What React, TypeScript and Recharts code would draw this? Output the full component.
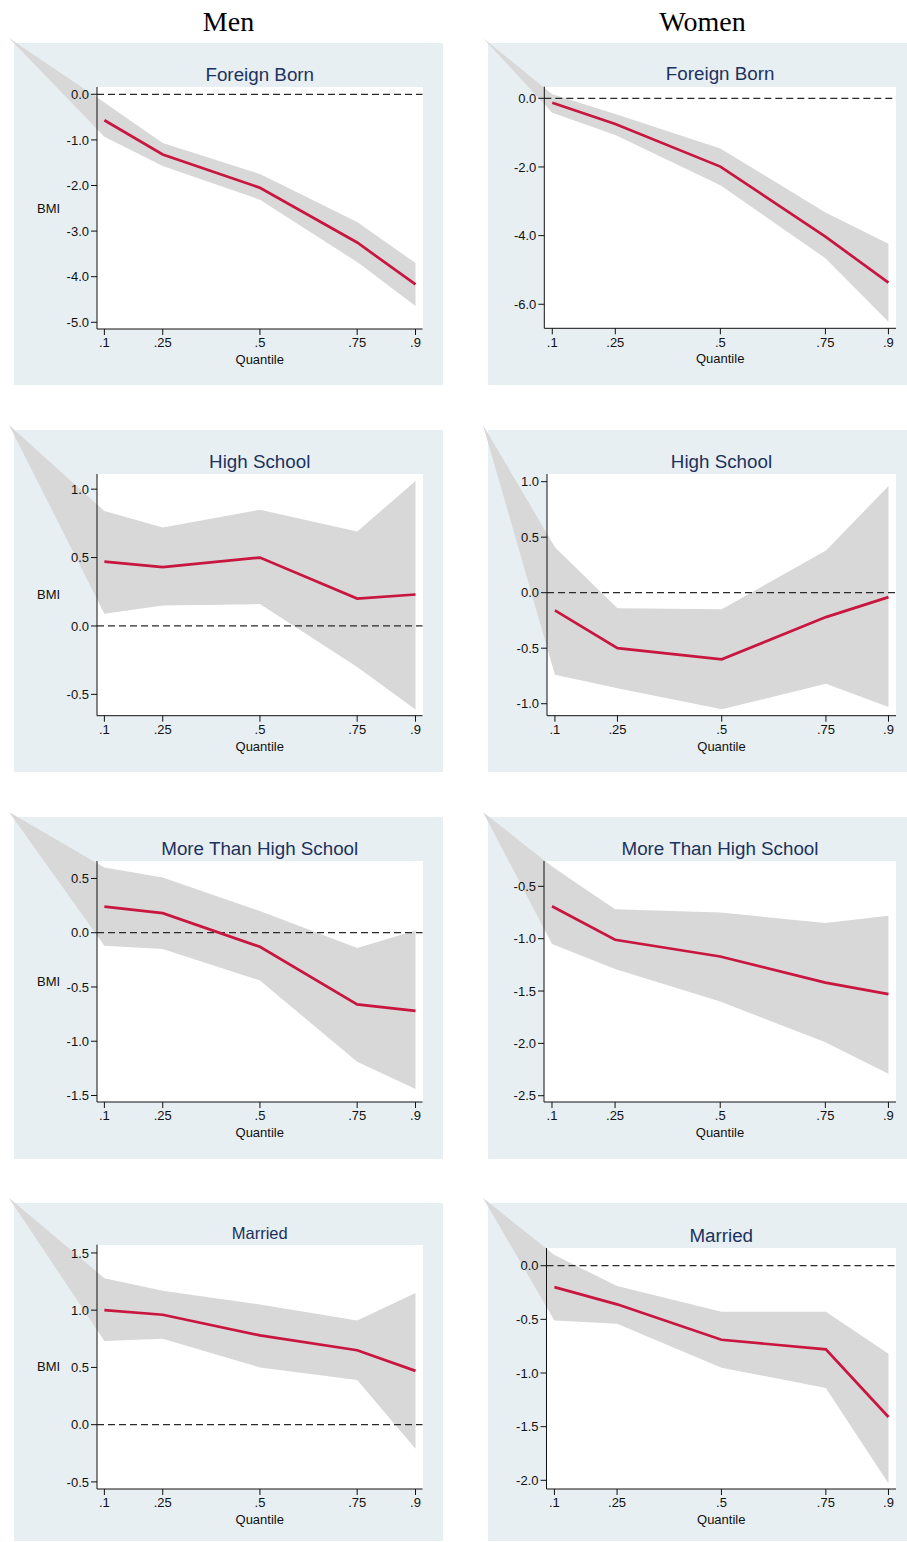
import { Area, ComposedChart, Line, ReferenceLine, XAxis, YAxis } from "recharts";

// quantiles on the x axis
const quantiles = [0.1, 0.25, 0.5, 0.75, 0.9];
const columnTitles = ["Men", "Women"];
const rowTitles = ["Foreign Born", "High School", "More Than High School", "Married"];

// Men
const menForeignEst = [-0.57, -1.32, -2.05, -3.25, -4.17];
const menForeignLo = [-0.93, -1.57, -2.31, -3.68, -4.64];
const menForeignHi = [-0.18, -1.07, -1.75, -2.8, -3.7];

const menHsEst = [0.47, 0.43, 0.5, 0.2, 0.23];
const menHsLo = [0.09, 0.15, 0.16, -0.3, -0.61];
const menHsHi = [0.84, 0.72, 0.85, 0.69, 1.06];

const menMoreEst = [0.24, 0.18, -0.13, -0.66, -0.72];
const menMoreLo = [-0.12, -0.15, -0.44, -1.19, -1.44];
const menMoreHi = [0.6, 0.51, 0.2, -0.14, 0.02];

const menMarriedEst = [1.0, 0.96, 0.78, 0.65, 0.47];
const menMarriedLo = [0.73, 0.75, 0.5, 0.39, -0.21];
const menMarriedHi = [1.28, 1.17, 1.05, 0.91, 1.15];

// Women
const womenForeignEst = [-0.13, -0.75, -1.99, -4.03, -5.37];
const womenForeignLo = [-0.42, -1.07, -2.53, -4.66, -6.51];
const womenForeignHi = [0.12, -0.46, -1.46, -3.33, -4.24];

const womenHsEst = [-0.16, -0.5, -0.6, -0.22, -0.04];
const womenHsLo = [-0.74, -0.86, -1.05, -0.82, -1.03];
const womenHsHi = [0.41, -0.14, -0.15, 0.38, 0.96];

const womenMoreEst = [-0.69, -1.01, -1.17, -1.42, -1.53];
const womenMoreLo = [-1.05, -1.29, -1.6, -1.99, -2.29];
const womenMoreHi = [-0.31, -0.72, -0.75, -0.85, -0.78];

const womenMarriedEst = [-0.2, -0.36, -0.69, -0.78, -1.41];
const womenMarriedLo = [-0.51, -0.54, -0.95, -1.14, -2.03];
const womenMarriedHi = [0.1, -0.19, -0.43, -0.43, -0.82];

// y ticks
const menForeignTicks = [0, -1, -2, -3, -4, -5];
const womenForeignTicks = [0, -2, -4, -6];
const menHsTicks = [1, 0.5, 0, -0.5];
const womenHsTicks = [1, 0.5, 0, -0.5, -1];
const menMoreTicks = [0.5, 0, -0.5, -1, -1.5];
const womenMoreTicks = [-0.5, -1, -1.5, -2, -2.5];
const menMarriedTicks = [1.5, 1, 0.5, 0, -0.5];
const womenMarriedTicks = [0, -0.5, -1, -1.5, -2];

// layout
const SANS = '"Liberation Sans", Arial, Helvetica, sans-serif';
const SERIF = '"Liberation Serif", "Times New Roman", serif';
const BG = "#e8eff2";
const BAND = "#d8d8d8";
const RED = "#c8163f";
const NAVY = "#1c325e";
const INK = "#111";
const PANEL_W = 429;
const X_DOMAIN: [number, number] = [0.081, 0.918];
const rowTop = [43, 430, 817, 1203];
const rowHeight = [342, 342, 342, 338];
const colLeft = [14, 488];

type Rect = { l: number; t: number; r: number; b: number };

type PanelDef = {
  row: number;
  col: number;
  titleSize: number;
  est: number[];
  lo: number[];
  hi: number[];
  ticks: number[];
  yDomain: [number, number];
  plot: Rect;
  zero: boolean;
};

const panels: PanelDef[] = [
  { row: 0, col: 0, titleSize: 18.8, est: menForeignEst, lo: menForeignLo, hi: menForeignHi, ticks: menForeignTicks, yDomain: [-5.147, 0.16], plot: { l: 97, r: 422.5, t: 87, b: 329 }, zero: true },
  { row: 0, col: 1, titleSize: 18.8, est: womenForeignEst, lo: womenForeignLo, hi: womenForeignHi, ticks: womenForeignTicks, yDomain: [-6.7, 0.338], plot: { l: 544.3, r: 896, t: 86.7, b: 328.3 }, zero: true },
  { row: 1, col: 0, titleSize: 18.8, est: menHsEst, lo: menHsLo, hi: menHsHi, ticks: menHsTicks, yDomain: [-0.656, 1.111], plot: { l: 97, r: 422.5, t: 474, b: 715.7 }, zero: true },
  { row: 1, col: 1, titleSize: 18.8, est: womenHsEst, lo: womenHsLo, hi: womenHsHi, ticks: womenHsTicks, yDomain: [-1.108, 1.069], plot: { l: 547, r: 896, t: 474, b: 715.7 }, zero: true },
  { row: 2, col: 0, titleSize: 18.8, est: menMoreEst, lo: menMoreLo, hi: menMoreHi, ticks: menMoreTicks, yDomain: [-1.56, 0.661], plot: { l: 97, r: 422.5, t: 861, b: 1102 }, zero: true },
  { row: 2, col: 1, titleSize: 18.8, est: womenMoreEst, lo: womenMoreLo, hi: womenMoreHi, ticks: womenMoreTicks, yDomain: [-2.56, -0.258], plot: { l: 544, r: 896, t: 861, b: 1102 }, zero: false },
  { row: 3, col: 0, titleSize: 16.5, est: menMarriedEst, lo: menMarriedLo, hi: menMarriedHi, ticks: menMarriedTicks, yDomain: [-0.562, 1.572], plot: { l: 97, r: 422.5, t: 1244.7, b: 1489 }, zero: true },
  { row: 3, col: 1, titleSize: 18.8, est: womenMarriedEst, lo: womenMarriedLo, hi: womenMarriedHi, ticks: womenMarriedTicks, yDomain: [-2.081, 0.165], plot: { l: 546.5, r: 896, t: 1248, b: 1489 }, zero: true },
];

const fmtQ = (v: number) => String(v).replace(/^0\./, ".");
const fmtY = (v: number) => v.toFixed(1);

function Panel({ p }: { p: PanelDef }) {
  const bgLeft = colLeft[p.col];
  const bgTop = rowTop[p.row];
  // Stata draws the band's first vertex at the graph origin, 5px outside the panel
  const fx = bgLeft - 5;
  const fy = bgTop - 5;
  const W = PANEL_W + 5;
  const H = rowHeight[p.row] + 5;
  const L = p.plot.l - fx;
  const R = p.plot.r - fx;
  const T = p.plot.t - fy;
  const B = p.plot.b - fy;
  const bmiLeft = 37 - fx;
  const yw = p.col === 0 ? L - bmiLeft : 50;
  const xh = 35;
  const margin = { left: L - yw, right: W - R, top: T, bottom: H - B - xh };

  const kx = (X_DOMAIN[1] - X_DOMAIN[0]) / (R - L);
  const ex: [number, number] = [X_DOMAIN[0] - L * kx, X_DOMAIN[1] + (W - R) * kx];
  const ky = (p.yDomain[1] - p.yDomain[0]) / (B - T);
  const ey: [number, number] = [p.yDomain[0] - (H - B) * ky, p.yDomain[1] + T * ky];

  const lineData = quantiles.map((q, i) => ({ q, est: p.est[i] }));
  const bandData = [
    { q: ex[0], band: [ey[1], ey[1]] },
    ...quantiles.map((q, i) => ({ q, band: [p.lo[i], p.hi[i]] })),
  ];

  const titleBase = p.plot.t - 5.5;
  const cx = (p.plot.l + p.plot.r) / 2;

  return (
    <div style={{ position: "absolute", left: fx, top: fy, width: W, height: H }}>
      <div style={{ position: "absolute", left: 5, top: 5, width: PANEL_W, height: rowHeight[p.row], background: BG }} />
      <div style={{ position: "absolute", left: L, top: T, width: R - L, height: B - T, background: "#fff" }} />
      <div
        style={{
          position: "absolute",
          left: cx - fx - 200,
          width: 400,
          top: titleBase - fy - 0.8465 * p.titleSize,
          fontSize: p.titleSize,
          lineHeight: `${p.titleSize}px`,
          textAlign: "center",
          color: NAVY,
        }}
      >
        {rowTitles[p.row]}
      </div>
      <div style={{ position: "absolute", left: 0, top: 0 }}>
        <ComposedChart width={W} height={H} data={bandData} margin={{ left: 0, right: 0, top: 0, bottom: 0 }}>
          <XAxis type="number" dataKey="q" domain={ex} hide />
          <YAxis type="number" domain={[ey[0], ey[1]]} hide />
          <Area dataKey="band" type="linear" stroke="none" fill={BAND} fillOpacity={1} dot={false} activeDot={false} isAnimationActive={false} />
        </ComposedChart>
      </div>
      <div style={{ position: "absolute", left: 0, top: 0 }}>
        <ComposedChart width={W} height={H} data={lineData} margin={margin}>
          <XAxis
            type="number"
            dataKey="q"
            domain={X_DOMAIN}
            ticks={quantiles}
            interval={0}
            tickFormatter={fmtQ}
            height={xh}
            tickSize={6}
            tickMargin={3}
            axisLine={{ stroke: INK }}
            tickLine={{ stroke: INK }}
            tick={{ fontSize: 13, fill: INK }}
            label={{ value: "Quantile", position: "insideBottom", offset: 0, fontSize: 13, fill: INK }}
          />
          <YAxis
            type="number"
            domain={p.yDomain}
            ticks={p.ticks}
            interval={0}
            tickFormatter={fmtY}
            width={yw}
            tickSize={6}
            tickMargin={2}
            axisLine={{ stroke: INK }}
            tickLine={{ stroke: INK }}
            tick={{ fontSize: 13, fill: INK }}
            label={p.col === 0 ? { value: "BMI", position: "insideLeft", offset: 0, fontSize: 13, fill: INK } : undefined}
          />
          {p.zero && <ReferenceLine y={0} stroke="#2a2a2a" strokeWidth={1.3} strokeDasharray="7 4" />}
          <Line dataKey="est" type="linear" stroke={RED} strokeWidth={2.7} dot={false} activeDot={false} isAnimationActive={false} />
        </ComposedChart>
      </div>
    </div>
  );
}

export default function App() {
  return (
    <div
      style={{
        position: "absolute",
        left: 0,
        top: 0,
        width: 907,
        height: 1542,
        overflow: "hidden",
        background: "#fff",
        fontFamily: SANS,
      }}
    >
      {columnTitles.map((t, c) => (
        <div
          key={t}
          style={{
            position: "absolute",
            left: colLeft[c] + PANEL_W / 2 - 100,
            width: 200,
            top: 8.3,
            fontSize: 28,
            lineHeight: "28px",
            textAlign: "center",
            fontFamily: SERIF,
            color: "#000",
          }}
        >
          {t}
        </div>
      ))}
      {panels.map((p) => (
        <Panel key={`${p.row}-${p.col}`} p={p} />
      ))}
    </div>
  );
}
